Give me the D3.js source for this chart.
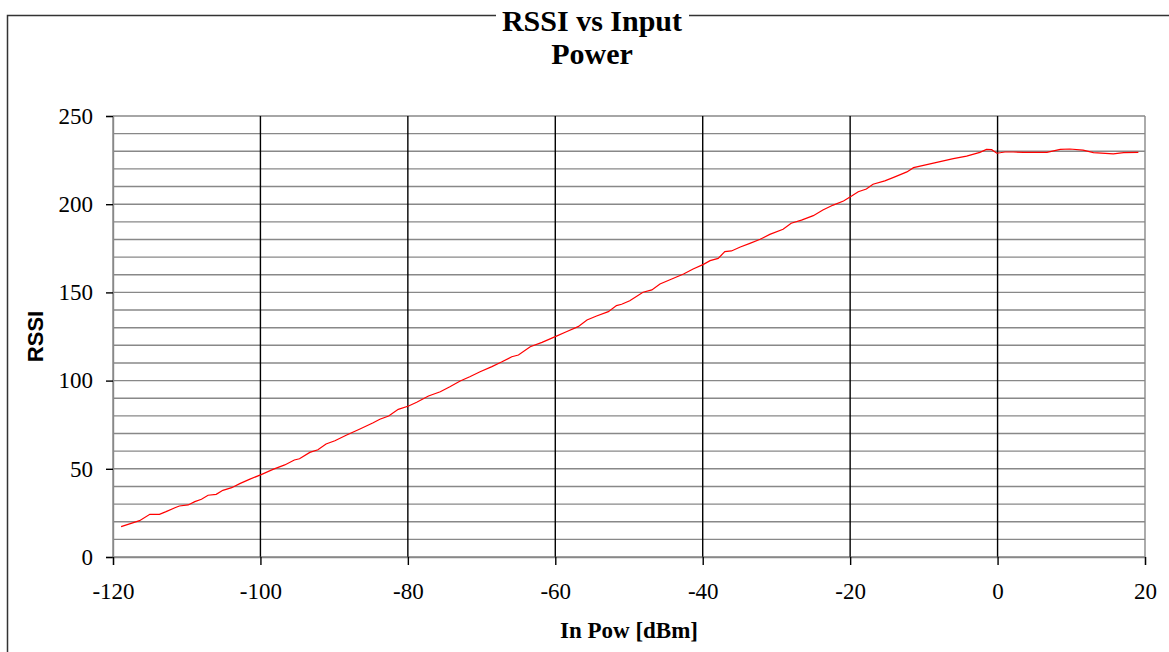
<!DOCTYPE html>
<html>
<head>
<meta charset="utf-8">
<script src="https://cdn.jsdelivr.net/npm/d3@7"></script>
<style>
  body { margin: 0; background: #fff; }
  svg { display: block; }
</style>
</head>
<body>
<div id="chart"></div>
<script>
let w = 1169,
    h = 652

// measured curve: input power [dBm] and RSSI reading
let inPow = [-118.9, -116.4, -115.0, -113.7, -112.8, -111.6, -111.0, -109.8, -108.9, -108.0,
    -107.1, -106.0, -105.1, -103.9, -102.8, -101.5, -99.9, -98.3, -96.7, -95.4,
    -94.7, -93.3, -92.2, -91.1, -89.9, -88.3, -86.5, -84.7, -83.8, -82.6,
    -81.3, -79.9, -78.8, -77.2, -75.6, -74.3, -72.9, -71.6, -70.2, -68.6,
    -67.3, -65.9, -65.0, -63.4, -61.8, -60.0, -58.5, -56.9, -55.7, -54.4,
    -52.8, -51.7, -51.0, -49.9, -48.1, -46.9, -45.8, -44.2, -42.6, -41.3,
    -39.9, -39.0, -37.9, -37.0, -36.1, -34.9, -33.6, -32.2, -30.9, -29.1,
    -28.0, -26.6, -25.0, -23.7, -22.3, -20.9, -19.8, -18.9, -17.8, -16.9,
    -15.3, -14.1, -12.3, -11.4, -9.6, -7.8, -6.0, -4.2, -2.4, -1.5,
    -0.8, -0.1, 1.0, 2.1, 3.5, 6.7, 8.5, 9.8, 11.6, 13.0,
    15.7, 17.1, 19.1]
let rssi = [17.2, 20.6, 24.2, 24.2, 25.7, 27.9, 28.9, 29.5, 31.4, 32.7,
    35.0, 35.5, 37.8, 39.3, 41.6, 44.0, 46.7, 49.7, 52.2, 55.0,
    55.7, 59.3, 60.8, 64.1, 65.9, 69.2, 72.6, 76.1, 78.1, 79.9,
    83.7, 85.6, 87.7, 91.3, 93.7, 96.5, 99.8, 102.2, 105.0, 107.9,
    110.5, 113.5, 114.5, 119.2, 121.7, 124.9, 127.7, 130.6, 134.4, 136.6,
    139.1, 142.5, 143.3, 145.3, 150.1, 151.4, 154.8, 157.6, 160.4, 163.3,
    165.9, 168.0, 169.3, 173.1, 173.5, 175.7, 177.8, 180.1, 182.9, 185.8,
    189.2, 191.0, 193.5, 196.7, 199.5, 201.8, 204.6, 207.1, 208.6, 211.3,
    213.2, 215.2, 218.3, 220.7, 222.4, 224.1, 225.8, 227.3, 229.4, 231.1,
    230.9, 228.9, 229.6, 229.6, 229.4, 229.4, 231.1, 231.3, 230.7, 229.2,
    228.5, 229.2, 229.4]

let xTicks = [-120, -100, -80, -60, -40, -20, 0, 20]
let yTicks = [0, 50, 100, 150, 200, 250]
let yGrid = d3.range(0, 251, 10)

let titleLines = ['RSSI vs Input', 'Power']
let xTitle = 'In Pow [dBm]'
let yTitle = 'RSSI'

let data = inPow.map((p, i) => ({ pow: p, rssi: rssi[i] }))

let x = d3.scaleLinear().domain([-120, 20]).range([113, 1145])
let y = d3.scaleLinear().domain([0, 250]).range([557, 116])

let svg = d3.select('#chart')
    .append('svg')
    .attr('width', w)
    .attr('height', h)

// outer chart border
svg.append('rect')
    .attr('x', 7.5)
    .attr('y', 15.5)
    .attr('width', 1180)
    .attr('height', 660)
    .attr('fill', '#fff')
    .attr('stroke', '#333')
    .attr('stroke-width', 1.5)

// horizontal grid
svg.append('g')
    .selectAll('line')
    .data(yGrid)
    .enter()
    .append('line')
    .attr('x1', x(-120))
    .attr('x2', x(20))
    .attr('y1', d => y(d))
    .attr('y2', d => y(d))
    .attr('stroke', '#888')
    .attr('stroke-width', 1.4)

// vertical grid
svg.append('g')
    .selectAll('line')
    .data(xTicks)
    .enter()
    .append('line')
    .attr('x1', d => x(d))
    .attr('x2', d => x(d))
    .attr('y1', y(250))
    .attr('y2', y(0))
    .attr('stroke', d => d === -120 || d === 20 ? '#888' : '#000')
    .attr('stroke-width', 1.4)

// axes
let yAxis = d3.axisLeft(y).tickValues(yTicks).tickSize(7).tickPadding(13)
let xAxis = d3.axisBottom(x).tickValues(xTicks).tickSize(8).tickPadding(18)

let gy = svg.append('g')
    .attr('transform', `translate(${x(-120)},0)`)
    .call(yAxis)
let gx = svg.append('g')
    .attr('transform', `translate(0,${y(0)})`)
    .call(xAxis)

;[gx, gy].forEach(g => {
    g.select('.domain').attr('stroke', '#888').attr('stroke-width', 1.4)
    g.selectAll('.tick line').attr('stroke', '#000').attr('stroke-width', 1.4)
    g.selectAll('.tick text')
        .attr('fill', '#000')
        .attr('font-family', '"Liberation Serif", "Times New Roman", serif')
        .attr('font-size', 23)
})
gx.selectAll('.tick text').text(d => String(d))

// the curve
let line = d3.line()
    .x(d => x(d.pow))
    .y(d => y(d.rssi))

svg.append('path')
    .attr('d', line(data))
    .attr('stroke', '#ff0000')
    .attr('stroke-width', 1.2)
    .attr('fill', 'none')

// title
svg.append('rect')
    .attr('x', 496)
    .attr('y', 8)
    .attr('width', 193)
    .attr('height', 24)
    .attr('fill', '#fff')

svg.append('g')
    .selectAll('text')
    .data(titleLines)
    .enter()
    .append('text')
    .text(d => d)
    .attr('x', 592)
    .attr('y', (d, i) => 31 + i * 33)
    .attr('text-anchor', 'middle')
    .attr('font-family', '"Liberation Serif", "Times New Roman", serif')
    .attr('font-weight', 'bold')
    .attr('font-size', 30)

svg.append('text')
    .text(xTitle)
    .attr('x', (x(-120) + x(20)) / 2)
    .attr('y', 638)
    .attr('text-anchor', 'middle')
    .attr('font-family', '"Liberation Serif", "Times New Roman", serif')
    .attr('font-weight', 'bold')
    .attr('font-size', 23)

svg.append('text')
    .text(yTitle)
    .attr('transform', `translate(43,${(y(0) + y(250)) / 2}) rotate(-90)`)
    .attr('text-anchor', 'middle')
    .attr('font-family', '"Liberation Sans", Arial, sans-serif')
    .attr('font-weight', 'bold')
    .attr('font-size', 22)
</script>
</body>
</html>
